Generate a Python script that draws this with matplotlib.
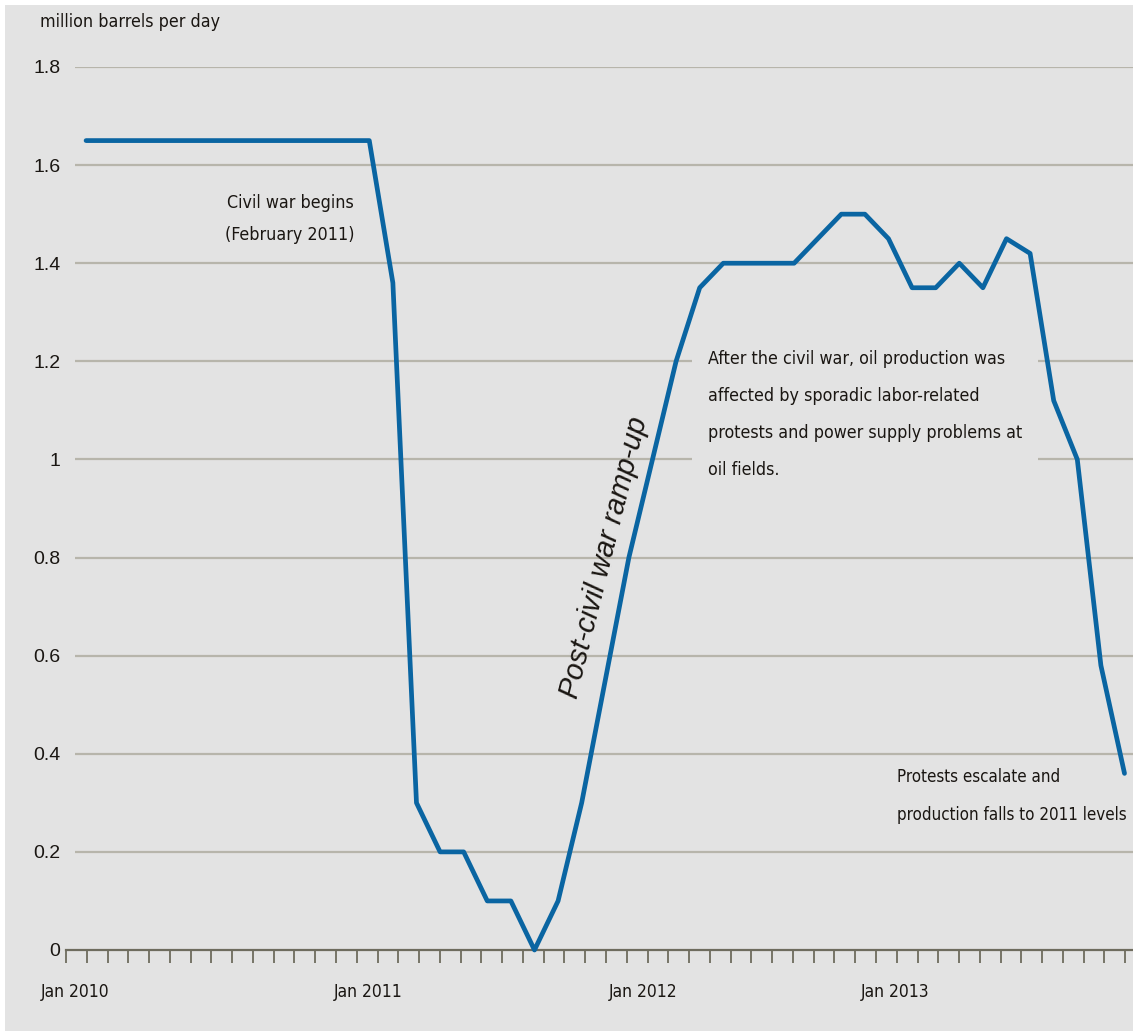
import numpy as np
import matplotlib
matplotlib.use("Agg")
from matplotlib import pyplot as plt
from matplotlib.patches import Rectangle
from matplotlib.ticker import FixedLocator

# Libya crude oil production, monthly, Jan 2010 - Sep 2013
months = np.arange(45)
production = [1.65] * 13 + [
    1.36, 0.30, 0.20, 0.20, 0.10, 0.10, 0.00, 0.10, 0.30, 0.55, 0.80,
    1.00, 1.20, 1.35, 1.40, 1.40, 1.40, 1.40, 1.45, 1.50, 1.50, 1.45,
    1.35, 1.35, 1.40, 1.35, 1.45, 1.42, 1.12, 1.00, 0.58, 0.36,
]

year_labels = ["Jan 2010", "Jan 2011", "Jan 2012", "Jan 2013"]
year_pos = [-0.47, 11.94, 23.6, 34.3]
y_ticks = [0, 0.2, 0.4, 0.6, 0.8, 1.0, 1.2, 1.4, 1.6, 1.8]
y_labels = ["0", "0.2", "0.4", "0.6", "0.8", "1", "1.2", "1.4", "1.6", "1.8"]

bg = "#e3e3e3"
blue = "#0a65a2"
grid_col = "#b7b5ab"
axis_col = "#6e6c5e"
txt = "#1a1612"

plt.rcParams['font.family'] = ['DejaVu Sans']
plt.rcParams['font.stretch'] = 'condensed'
narrow = dict(family='DejaVu Sans', stretch='condensed')

fig = plt.figure(figsize=(11.33, 10.31), dpi=100)
fig.patch.set_facecolor(bg)
# thin white border at top and left like the source image
fig.patches.append(Rectangle((0, 0), 5 / 1133, 1, transform=fig.transFigure,
                             facecolor="white", edgecolor="none", zorder=0))
fig.patches.append(Rectangle((0, 1 - 5 / 1031), 1, 5 / 1031, transform=fig.transFigure,
                             facecolor="white", edgecolor="none", zorder=0))

ax = fig.add_axes([66 / 1133, 81 / 1031, 1067 / 1133, 883 / 1031])
ax.set_facecolor(bg)
ax.set_xlim(-0.85, 44.36)
ax.set_ylim(0, 1.8)

for s in ["top", "right", "left"]:
    ax.spines[s].set_visible(False)
ax.spines["bottom"].set_color(axis_col)
ax.spines["bottom"].set_linewidth(1.6)

# horizontal grid lines (start a little right of the axis origin)
ax.hlines(y_ticks[1:], -0.47, 44.36, colors=grid_col, linewidth=1.6, zorder=1)

ax.plot(months, production, color=blue, linewidth=3.4, solid_capstyle="round",
        solid_joinstyle="round", zorder=3, clip_on=False)

ax.set_yticks(y_ticks)
ax.set_yticklabels(y_labels, fontsize=14, color=txt, family=['Liberation Sans', 'DejaVu Sans'])
ax.tick_params(axis="y", length=0, pad=4)

ax.xaxis.set_major_locator(FixedLocator(year_pos))
ax.set_xticklabels(year_labels, fontsize=12.5, color=txt, **narrow)
ax.xaxis.set_minor_locator(FixedLocator(np.arange(-0.85, 44.36, 0.88)))
ax.tick_params(axis="x", which="major", length=0, pad=24)
ax.tick_params(axis="x", which="minor", length=9, width=1.3, color=axis_col, direction="out")

fig.text(40 / 1133, 1 - 22 / 1031, "million barrels per day", fontsize=12.8, color=txt,
         ha="left", va="center", **narrow)

ax.text(8.64, 1.49, "Civil war begins\n(February 2011)", fontsize=12.8, color=txt,
        ha="center", va="center", linespacing=2.0, zorder=4, **narrow)

ax.text(21.95, 0.80, "Post-civil war ramp-up", fontsize=21, style="italic", color=txt,
        rotation=76, ha="center", va="center", zorder=4,
        family=['Liberation Sans', 'DejaVu Sans'])

ax.text(26.36, 1.092,
        "After the civil war, oil production was\naffected by sporadic labor-related\n"
        "protests and power supply problems at\noil fields.",
        fontsize=12.8, color=txt, ha="left", va="center", linespacing=2.35, zorder=2,
        bbox=dict(boxstyle="square,pad=0.9", facecolor=bg, edgecolor="none"), **narrow)

ax.text(34.36, 0.314, "Protests escalate and\nproduction falls to 2011 levels",
        fontsize=12.2, color=txt, ha="left", va="center", linespacing=2.45, zorder=4, **narrow)

fig.savefig("out.png", dpi=100, facecolor=bg)
